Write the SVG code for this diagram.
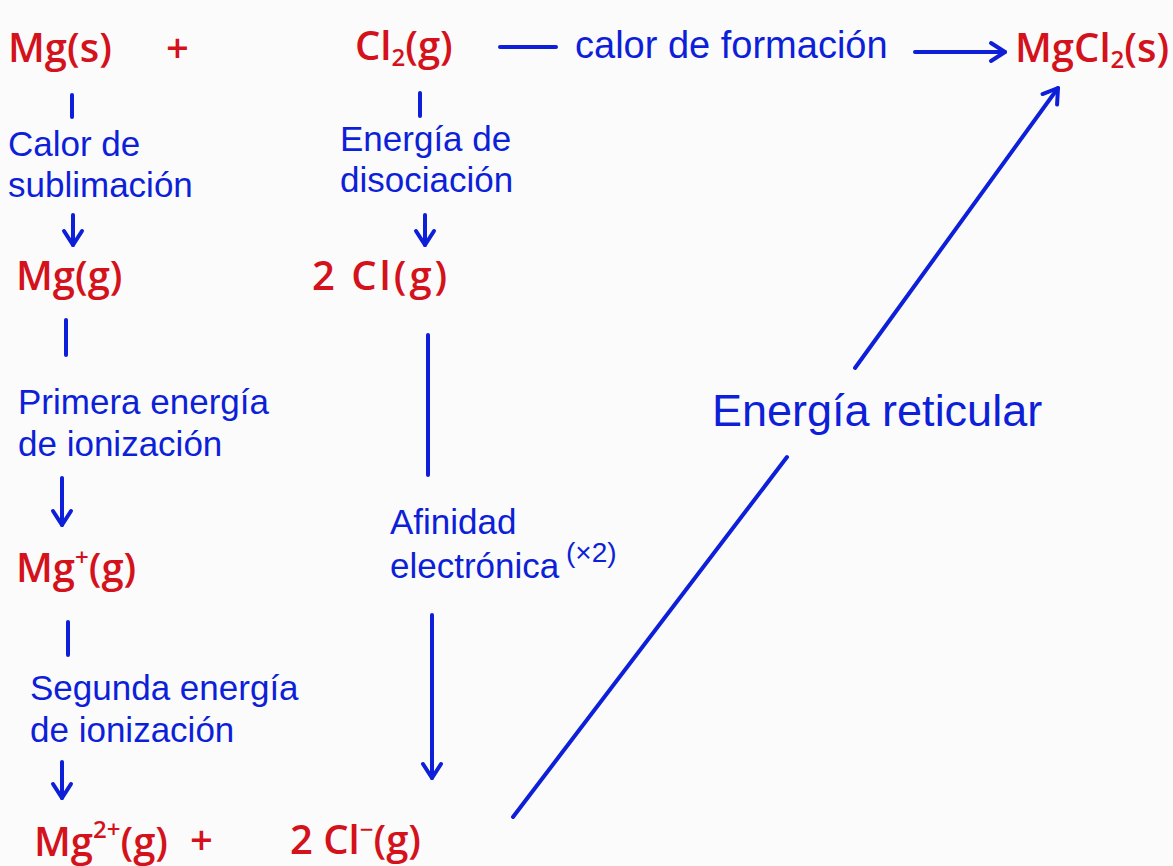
<svg xmlns="http://www.w3.org/2000/svg" width="1173" height="866" viewBox="0 0 1173 866">
<style>
.r{fill:#d4121c;font-family:"Open Sans","Liberation Sans",sans-serif;font-size:40px;font-weight:600}
.b{fill:#0d1fd8;font-family:"Liberation Sans","Open Sans",sans-serif;font-size:35px}
.ln{stroke:#0d1fd8;stroke-width:4;stroke-linecap:round;fill:none}
.sm{font-size:24px}
</style>
<defs>
<marker id="ah" markerUnits="userSpaceOnUse" markerWidth="24" markerHeight="24" viewBox="0 0 24 24" refX="20" refY="12" orient="auto">
<path d="M6,3 L20,12 L6,21" fill="none" stroke="#0d1fd8" stroke-width="4" stroke-linecap="round" stroke-linejoin="round"/>
</marker>
</defs>
<rect width="1173" height="866" fill="#fbfbfb"/>
<g id="connectors">
<line class="ln" x1="500" y1="47" x2="556" y2="47"/>
<line class="ln" x1="915" y1="52" x2="1005" y2="52" marker-end="url(#ah)"/>
<line class="ln" x1="72" y1="95" x2="72" y2="117"/>
<line class="ln" x1="73" y1="215" x2="73" y2="245" marker-end="url(#ah)"/>
<line class="ln" x1="420" y1="93" x2="420" y2="116"/>
<line class="ln" x1="425" y1="215" x2="425" y2="245" marker-end="url(#ah)"/>
<line class="ln" x1="66" y1="320" x2="66" y2="355"/>
<line class="ln" x1="62" y1="478" x2="62" y2="525" marker-end="url(#ah)"/>
<line class="ln" x1="68" y1="622" x2="68" y2="655"/>
<line class="ln" x1="62" y1="762" x2="62" y2="798" marker-end="url(#ah)"/>
<line class="ln" x1="428" y1="335" x2="428" y2="475"/>
<line class="ln" x1="432" y1="615" x2="432" y2="778" marker-end="url(#ah)"/>
<line class="ln" x1="513" y1="817" x2="787" y2="457"/>
<line class="ln" x1="855" y1="368" x2="1058" y2="88" marker-end="url(#ah)"/>
</g>
<g id="mg-s"><text class="r" x="8" y="62">Mg(s)</text></g>
<g id="plus-top"><text class="r" x="166" y="62">+</text></g>
<g id="cl2-g"><text class="r" x="355" y="60">Cl<tspan class="sm" dy="6">2</tspan><tspan dy="-6">(g)</tspan></text></g>
<g id="calor-formacion"><text class="b" x="575" y="58" style="font-size:38px">calor de formación</text></g>
<g id="mgcl2-s"><text class="r" x="1015" y="62">MgCl<tspan class="sm" dy="6">2</tspan><tspan dy="-6">(s)</tspan></text></g>
<g id="calor-sublimacion"><text class="b" x="8" y="156">Calor de</text><text class="b" x="8" y="197">sublimación</text></g>
<g id="energia-disociacion"><text class="b" x="340" y="151">Energía de</text><text class="b" x="340" y="192">disociación</text></g>
<g id="mg-g"><text class="r" x="16" y="290">Mg(g)</text></g>
<g id="cl-g"><text class="r" x="312" y="290" letter-spacing="3">2 Cl(g)</text></g>
<g id="primera-ionizacion"><text class="b" x="18" y="414">Primera energía</text><text class="b" x="18" y="456">de ionización</text></g>
<g id="mg-plus"><text class="r" x="16" y="582">Mg<tspan class="sm" dy="-16">+</tspan><tspan dy="16">(g)</tspan></text></g>
<g id="afinidad"><text class="b" x="390" y="534">Afinidad</text><text class="b" x="390" y="578">electrónica</text><text class="b" x="566" y="562" style="font-size:28px">(×2)</text></g>
<g id="segunda-ionizacion"><text class="b" x="30" y="700">Segunda energía</text><text class="b" x="30" y="742">de ionización</text></g>
<g id="mg-2plus"><text class="r" x="34" y="856">Mg<tspan class="sm" dy="-18">2+</tspan><tspan dy="18">(g)</tspan></text></g>
<g id="plus-bottom"><text class="r" x="190" y="854">+</text></g>
<g id="cl-minus"><text class="r" x="290" y="854">2 Cl<tspan class="sm" dy="-16">−</tspan><tspan dy="16">(g)</tspan></text></g>
<g id="energia-reticular"><text class="b" x="712" y="426" style="font-size:45px">Energía reticular</text></g>
</svg>
